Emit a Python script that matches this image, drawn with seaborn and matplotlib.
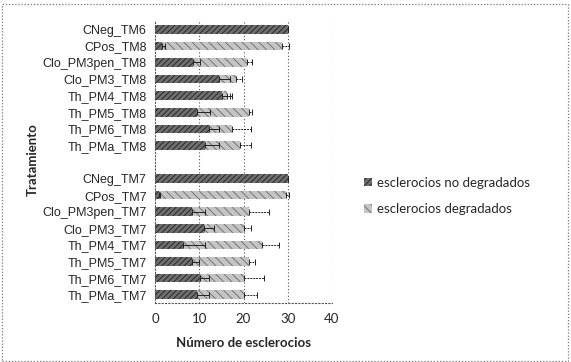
import numpy as np
import pandas as pd
import matplotlib
matplotlib.use("Agg")
import matplotlib.pyplot as plt
import seaborn as sns
from matplotlib.patches import Patch, Rectangle

categories = [
    "CNeg_TM6", "CPos_TM8", "Clo_PM3pen_TM8", "Clo_PM3_TM8", "Th_PM4_TM8",
    "Th_PM5_TM8", "Th_PM6_TM8", "Th_PMa_TM8", " ",
    "CNeg_TM7", "CPos_TM7", "Clo_PM3pen_TM7", "Clo_PM3_TM7", "Th_PM4_TM7",
    "Th_PM5_TM7", "Th_PM6_TM7", "Th_PMa_TM7",
]
no_degradados = [30, 1.5, 8.7, 14.4, 15.2, 9.5, 12.1, 11.4, 0,
                 30, 0.8, 8.3, 11.0, 6.4, 8.3, 10.2, 9.5]
err_no_degradados = [0, 0.7, 1.4, 2.6, 1.8, 3.0, 2.3, 3.0, 0,
                     0, 0.4, 3.0, 2.3, 5.0, 1.7, 2.1, 2.6]
degradados = [0, 27.3, 12.1, 3.8, 1.1, 11.7, 5.3, 7.9, 0,
              0, 28.7, 12.9, 9.0, 17.8, 12.9, 9.8, 10.5]
err_degradados = [0, 1.5, 1.2, 1.5, 1.0, 0.8, 4.2, 2.3, 0,
                  0, 0.8, 4.6, 1.6, 3.8, 1.5, 4.6, 3.0]
xticks = [0, 10, 20, 30, 40]

df = pd.DataFrame({
    "Tratamiento": categories,
    "nd": no_degradados,
    "d": degradados,
})
df["total"] = df["nd"] + df["d"]
mask = np.array([c.strip() != "" for c in categories])

sns.set_style("white")
plt.rcParams["hatch.linewidth"] = 0.6
plt.rcParams["font.family"] = ["Liberation Sans", "DejaVu Sans"]

fig = plt.figure(figsize=(5.71, 3.62), dpi=100)
ax = fig.add_axes([155 / 571, 1 - 303 / 362, (332 - 155) / 571, (303 - 21) / 362])

bar_w = 0.52
sns.barplot(data=df, y="Tratamiento", x="total", orient="h", ax=ax,
            color="#c4c4c4", width=bar_w, errorbar=None, order=categories,
            edgecolor="#6a6a6a", linewidth=0, hatch="\\\\\\\\")
sns.barplot(data=df, y="Tratamiento", x="nd", orient="h", ax=ax,
            color="#6e6e6e", width=bar_w, errorbar=None, order=categories,
            edgecolor="#1e1e1e", linewidth=0, hatch="//////")

ypos = np.arange(len(categories))
tot = df["total"].to_numpy()
nd = df["nd"].to_numpy()
ax.errorbar(nd[mask], ypos[mask], xerr=[np.zeros(mask.sum()), np.array(err_no_degradados)[mask]],
            fmt="none", ecolor="#222222", elinewidth=0.7, capsize=2.5, capthick=0.7)
eb = ax.errorbar(tot[mask], ypos[mask], xerr=[np.zeros(mask.sum()), np.array(err_degradados)[mask]],
                 fmt="none", ecolor="#222222", elinewidth=0.7, capsize=2.5, capthick=0.7)
for coll in eb[2]:
    coll.set_linestyle((0, (2, 1)))

ax.set_xlim(0, 40)
ax.set_ylim(len(categories) - 0.5, -0.5)
ax.set_xticks(xticks)
ax.set_xticklabels([str(t) for t in xticks], fontsize=9.5, family="Lato")
ax.tick_params(axis="y", labelsize=9, length=0, pad=6)
ax.tick_params(axis="x", length=0, pad=7)
for x in xticks[1:]:
    ax.axvline(x, color="#555555", linestyle=(0, (1, 2)), linewidth=0.8, zorder=0)
for s in ["top", "right"]:
    ax.spines[s].set_visible(False)
for s in ["left", "bottom"]:
    ax.spines[s].set_linestyle((0, (1, 2)))
    ax.spines[s].set_color("#555555")
    ax.spines[s].set_linewidth(0.8)

ax.set_xlabel("Número de esclerocios", fontsize=9.5, fontweight="bold", family="Lato", labelpad=9)
ax.set_ylabel("")
fig.text(33 / 571, 1 - 160 / 362, "Tratamiento", rotation=90, ha="center", va="center",
         fontsize=9.5, fontweight="bold", family="Lato")

handles = [Patch(facecolor="#6e6e6e", edgecolor="#1e1e1e", hatch="//////", linewidth=0),
           Patch(facecolor="#c4c4c4", edgecolor="#6a6a6a", hatch="\\\\\\\\", linewidth=0)]
fig.legend(handles, ["esclerocios no degradados", "esclerocios degradados"],
           loc="center left", bbox_to_anchor=(352 / 571, 1 - 196 / 362), frameon=False,
           prop={"family": "Lato", "size": 9.5}, handlelength=0.6, handleheight=0.6,
           handletextpad=0.4, labelspacing=1.1)

fig.patches.append(Rectangle((0.004, 0.004), 0.99, 0.985, transform=fig.transFigure,
                             fill=False, edgecolor="#777777", linestyle=(0, (1, 1.5)),
                             linewidth=0.9))
fig.savefig("out.png", dpi=100)
